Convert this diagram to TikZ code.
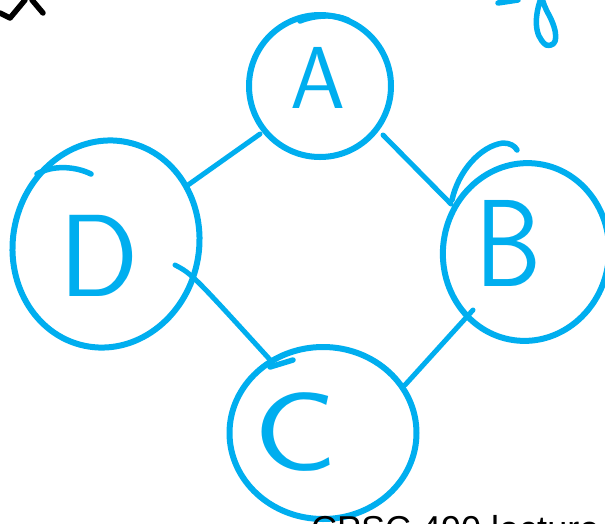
\documentclass[tikz,border=0pt]{standalone}
\usepackage{fontspec}
\setmainfont{Liberation Sans}
\usetikzlibrary{shapes.geometric}
\definecolor{ink}{RGB}{0,174,239}
\tikzset{
  vert/.style={ellipse, draw=ink, line width=6pt, inner sep=0pt},
  letter/.style={text=ink, inner sep=0pt},
  edge/.style={draw=ink, line width=5pt, line cap=round},
  stroke/.style={line width=5.5pt, line cap=round, line join=round},
}
\newcommand{\lettersize}[1]{\sffamily\fontsize{#1}{#1}\selectfont}
\begin{document}
\begin{tikzpicture}[x=1pt,y=-1pt]
\clip (0,0) rectangle (605,523);
\fill[white] (0,0) rectangle (605,523);
% vertices
\node[vert, minimum width=142pt, minimum height=142pt] (A) at (320,86) {};
\node[vert, minimum width=166pt, minimum height=178pt, rotate=-8] (B) at (526,252) {};
\node[vert, minimum width=187pt, minimum height=172pt] (C) at (323,433) {};
\node[vert, minimum width=186pt, minimum height=208pt, rotate=-12] (D) at (106,244) {};
% hand-drawn overlaps of the circles
\draw[stroke, ink] (300,21) .. controls (315,15) and (335,14) .. (348,20);
\draw[stroke, ink] (452,200) .. controls (458,172) and (480,146) .. (503,143) .. controls (510,143) and (515,146) .. (517,150);
\draw[stroke, ink] (270,367) -- (293,360);
\draw[stroke, ink] (37,174) .. controls (52,165) and (75,166) .. (91,174);
% letters
\node[letter, font=\lettersize{88}] (la) at (318,78) {A};
\node[letter, font=\lettersize{124}] (lb) at (508,243) {\scalebox{0.85}[1]{B}};
\node[letter, font=\lettersize{112}] (lc) at (296,432) {\scalebox{1.25}[1]{C}};
\node[letter, font=\lettersize{117}] (ld) at (99,256) {D};
% edges
\draw[edge] ([shift={(-60,48)}]A.center) -- ([shift={(82,-59)}]D.center);
\draw[edge] ([shift={(63,49)}]A.center) -- ([shift={(-75,-48)}]B.center);
\draw[edge] ([shift={(-53,58)}]B.center) -- ([shift={(82,-48)}]C.center);
\draw[edge] ([shift={(69,21)}]D.center) .. controls ([shift={(86,30)}]D.center) .. ([shift={(-50,-70)}]C.center);
% fragments at the edges of the picture
\draw[stroke, black] (0,13) -- (10,18) -- (25,0);
\draw[stroke, black] (32,0) -- (43,13);
\draw[stroke, ink] (498,3) -- (518,0);
\draw[stroke, ink] (541,-2) .. controls (535,15) and (533,35) .. (546,45)
  .. controls (560,48) and (557,30) .. (549,15) .. controls (545,8) and (543,2) .. (542,-2);
\node[anchor=base west, inner sep=0pt, font=\fontsize{36}{36}\selectfont] (cap) at (311,541) {CPSC 490 lecture};
\end{tikzpicture}
\end{document}
